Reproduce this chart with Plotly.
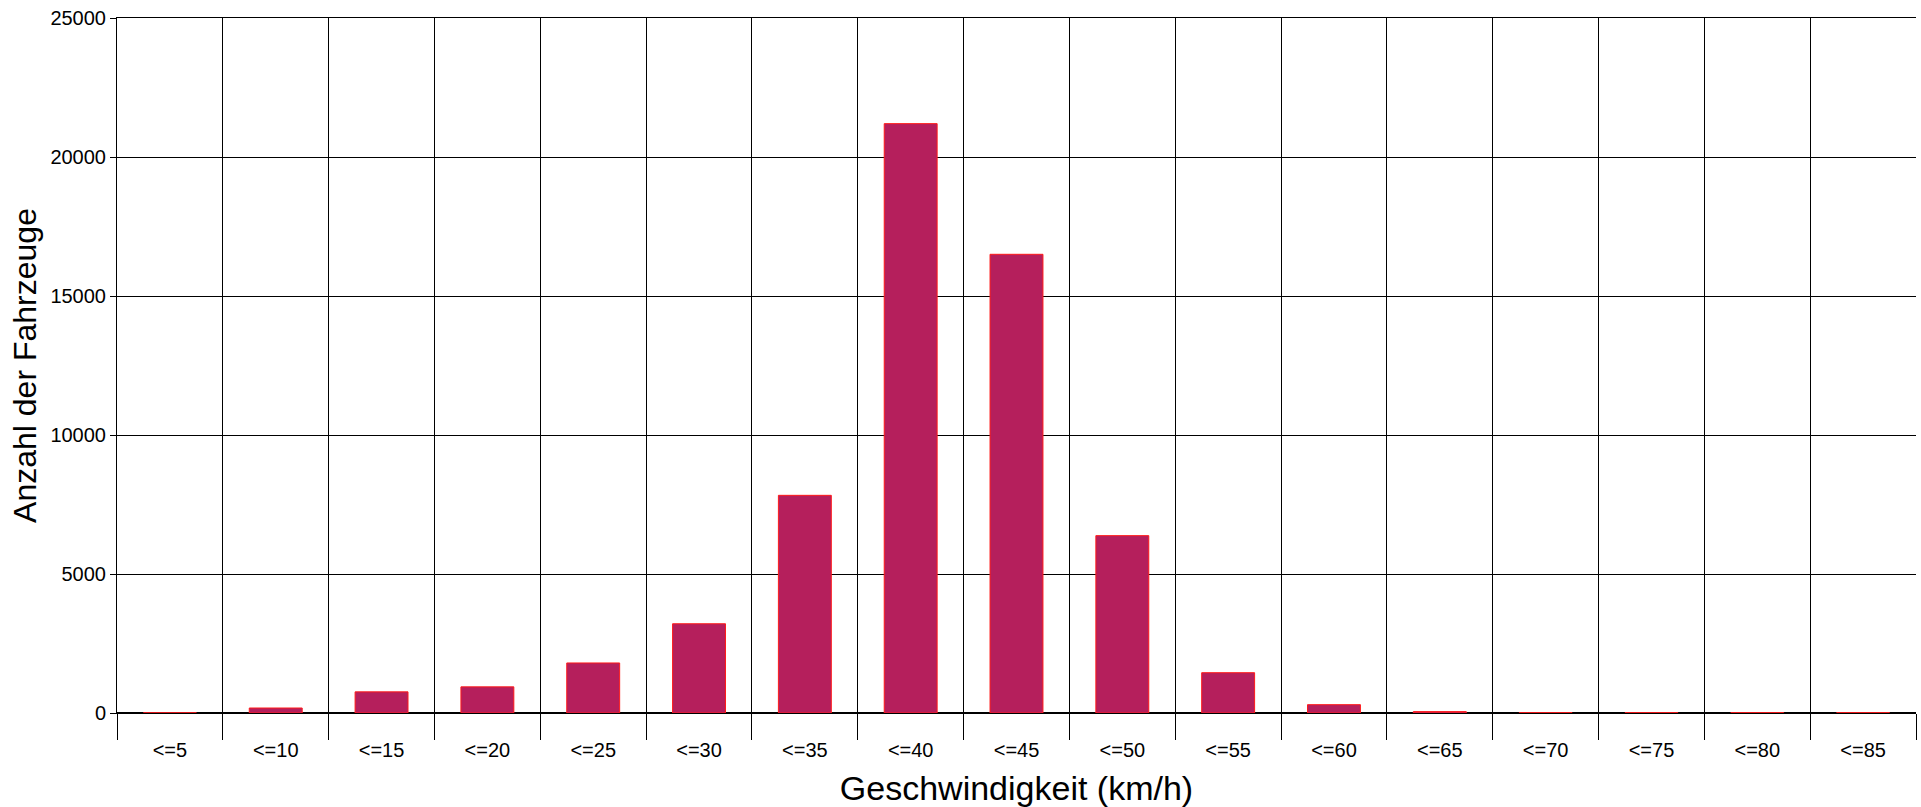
import plotly.graph_objects as go

categories = ["<=5", "<=10", "<=15", "<=20", "<=25", "<=30", "<=35", "<=40", "<=45",
              "<=50", "<=55", "<=60", "<=65", "<=70", "<=75", "<=80", "<=85"]
counts = [5, 180, 760, 940, 1800, 3210, 7830, 21200, 16500,
          6380, 1450, 300, 50, 10, 10, 10, 10]
y_ticks = [0, 5000, 10000, 15000, 20000, 25000]

FONT = "Liberation Sans, Arial, sans-serif"

fig = go.Figure(go.Bar(
    x=categories, y=counts,
    marker=dict(color="#B51F5C", line=dict(color="#FF1A1A", width=1)),
))

fig.update_layout(
    width=1921, height=807,
    margin=dict(l=117, r=5, t=18, b=94),
    paper_bgcolor="white", plot_bgcolor="white",
    bargap=0.5, showlegend=False,
    font=dict(family=FONT, color="black", size=20),
)
fig.update_xaxes(
    type="category", automargin=True,
    tickson="boundaries", ticks="outside", ticklen=26, tickcolor="black", tickwidth=1,
    showgrid=True, gridcolor="black", gridwidth=1,
    showline=True, linecolor="black", linewidth=1, mirror=True,
    tickfont=dict(size=20, family=FONT),
    ticklabelstandoff=19,
    title=dict(text="Geschwindigkeit (km/h)", font=dict(size=34, family=FONT), standoff=18),
)
fig.update_yaxes(
    range=[0, 25000], tickvals=y_ticks, ticktext=[str(v) for v in y_ticks],
    automargin=False,
    ticks="outside", ticklen=6, tickcolor="black",
    showgrid=True, gridcolor="black", gridwidth=1,
    showline=True, linecolor="black", linewidth=1,
    zeroline=True, zerolinecolor="black", zerolinewidth=2,
    ticklabeloverflow="allow",
    tickfont=dict(size=20, family=FONT),
    title=dict(text="Anzahl der Fahrzeuge", font=dict(size=32, family=FONT), standoff=4),
)

fig.write_html("out.html", config={"displayModeBar": False},
               post_script="document.body.style.margin='0';")
